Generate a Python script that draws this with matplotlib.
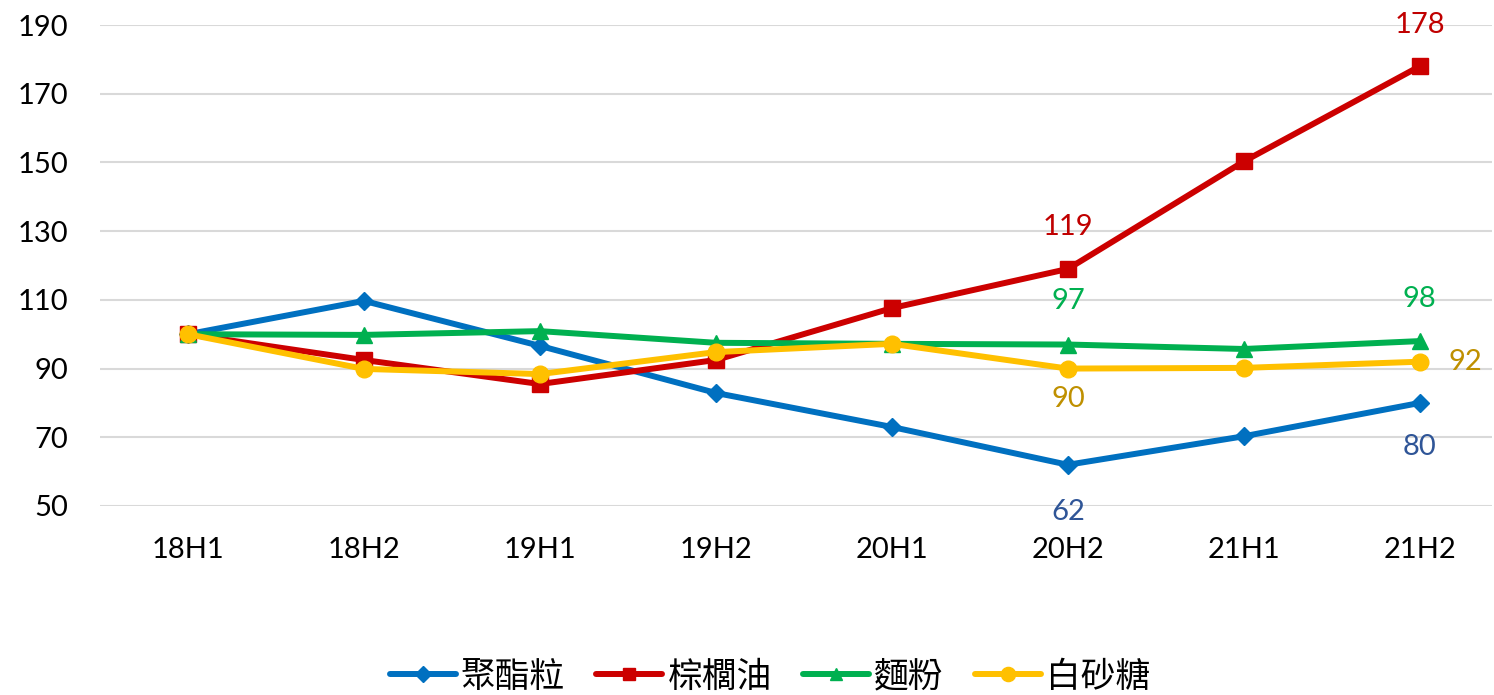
import matplotlib
matplotlib.use('Agg')
import matplotlib.pyplot as plt

# data
periods = ['18H1', '18H2', '19H1', '19H2', '20H1', '20H2', '21H1', '21H2']
polyester = [100, 109.7, 96.6, 82.9, 73, 62, 70.3, 80]
palm_oil = [100, 92.5, 85.5, 92.5, 107.6, 119, 150.3, 178]
flour = [100, 99.8, 100.9, 97.5, 97.2, 97, 95.7, 98]
sugar = [100, 89.9, 88.4, 94.8, 97.2, 90, 90.2, 92]
names = ['聚酯粒', '棕櫚油', '麵粉', '白砂糖']

plt.rcParams['font.family'] = ['Lato', 'Noto Sans CJK TC', 'DejaVu Sans']

fig = plt.figure(figsize=(14.94, 6.95), dpi=100)
ax = fig.add_axes([100 / 1494, 189 / 695, 1392 / 1494, 481 / 695])

x = list(range(len(periods)))
series = [
    (polyester, '#0070C0', 'D', 9),
    (palm_oil, '#CC0000', 's', 11),
    (flour, '#00B050', '^', 11),
    (sugar, '#FFC000', 'o', 12),
]
for (vals, col, mk, ms), nm in zip(series, names):
    ax.plot(x, vals, color=col, lw=4.3, marker=mk, ms=ms, label=nm,
            solid_capstyle='round', zorder=3)

# data labels
labels = [
    (5, palm_oil[5], '119', '#C00000', (0, 30)),
    (7, palm_oil[7], '178', '#C00000', (0, 30)),
    (5, flour[5], '97', '#00B050', (0, 31)),
    (7, flour[7], '98', '#00B050', (0, 30)),
    (5, sugar[5], '90', '#BF9000', (0, -22)),
    (7, sugar[7], '92', '#BF9000', (33, 0)),
    (5, polyester[5], '62', '#2F5597', (0, -34)),
    (7, polyester[7], '80', '#2F5597', (0, -32)),
]
for xi, yi, txt, col, off in labels:
    ax.annotate(txt, (xi, yi), xytext=off, textcoords='offset points',
                ha='center', va='center', color=col, fontsize=21)

ax.set_ylim(50, 190)
ax.set_yticks(range(50, 191, 20))
ax.set_xlim(-0.5, 7.41)
ax.set_xticks(x)
ax.set_xticklabels(periods)
ax.tick_params(axis='both', length=0, labelsize=21, colors='black')
ax.tick_params(axis='x', pad=22)
ax.tick_params(axis='y', pad=23)
ax.grid(axis='y', color='#D9D9D9', lw=1.5)
ax.set_axisbelow(True)
for s in ax.spines.values():
    s.set_visible(False)

leg = fig.legend(loc='center', bbox_to_anchor=(770 / 1494, 1 - 677 / 695), ncol=4,
                 frameon=False, prop={'family': ['Noto Sans CJK TC'], 'size': 25},
                 handlelength=1.9, columnspacing=0.9, handletextpad=0.15,
                 markerscale=0.85)

fig.savefig('out.png', dpi=100)
